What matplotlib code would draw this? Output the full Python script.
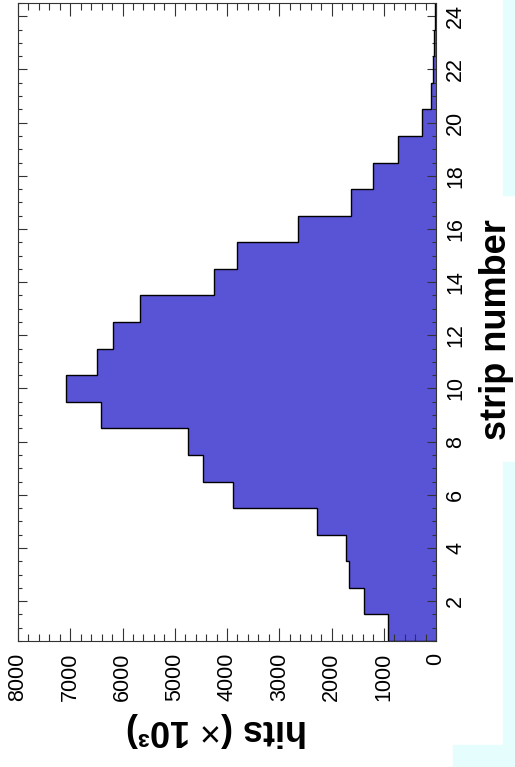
import matplotlib.pyplot as plt
from matplotlib.patches import Rectangle
from matplotlib.ticker import MultipleLocator
import numpy as np

plt.rcParams['font.family'] = ['Liberation Sans', 'DejaVu Sans']
plt.rcParams['mathtext.fontset'] = 'custom'
plt.rcParams['mathtext.rm'] = 'Liberation Sans'

# hits per strip (x 10^3)
strips = list(range(1, 25))
hits = [925, 1380, 1670, 1730, 2280, 3890, 4450, 4740, 6410, 7080, 6490, 6180,
        5670, 4250, 3800, 2650, 1630, 1210, 730, 270, 100, 60, 40, 20]

x_label = "hits ($\\times$ 10\u00b3)"
y_label = "strip number"

fig = plt.figure(figsize=(5.15, 7.67), dpi=100)
fig.patch.set_facecolor('white')

# light cyan slide background showing at the edges
cyan = '#e6fdfd'
for (x0, y0, w, h) in [(503, 0, 12, 195), (503, 462, 12, 283), (453, 745, 62, 22)]:
    fig.patches.append(Rectangle((x0 / 515, 1 - (y0 + h) / 767), w / 515, h / 767,
                                 transform=fig.transFigure, color=cyan, zorder=0))

ax = fig.add_axes([18 / 515, 1 - 641 / 767, 418 / 515, 638 / 767])

edges = np.arange(0.5, 25.0, 1.0)
ax.barh(strips, hits, height=1.0, color='#5953d6', linewidth=0, zorder=1)
ax.stairs(hits, edges, orientation='horizontal', color='black', linewidth=1.0, zorder=2)

ax.set_xlim(8000, 0)
ax.set_ylim(0.5, 24.5)

ax.xaxis.set_major_locator(MultipleLocator(1000))
ax.xaxis.set_minor_locator(MultipleLocator(200))
ax.yaxis.set_major_locator(MultipleLocator(2))
ax.yaxis.set_minor_locator(MultipleLocator(0.5))
ax.set_yticks(range(2, 25, 2))

ax.tick_params(axis='both', which='both', direction='in', top=True, bottom=True,
               left=True, right=True, width=0.8, color='#333333')
ax.tick_params(axis='x', which='major', length=9.4, pad=8.6, labelsize=15.5, labelrotation=90)
ax.tick_params(axis='x', which='minor', length=5)
ax.tick_params(axis='y', which='major', length=6.5, pad=6.5, labelsize=15.5, labelrotation=90,
               labelleft=False, labelright=True)
ax.tick_params(axis='y', which='minor', length=3)
plt.setp(ax.get_yticklabels(), va='center')

for s in ax.spines.values():
    s.set_linewidth(0.8)
    s.set_color('#333333')

fig.text(496 / 515, 1 - 330 / 767, y_label, rotation=90, ha='center', va='center',
         fontsize=26, fontweight='bold')
fig.text(217 / 515, 1 - 730 / 767, x_label, rotation=180, ha='center', va='center',
         fontsize=26, fontweight='bold')

fig.savefig('out.png', dpi=100)
plt.close(fig)
